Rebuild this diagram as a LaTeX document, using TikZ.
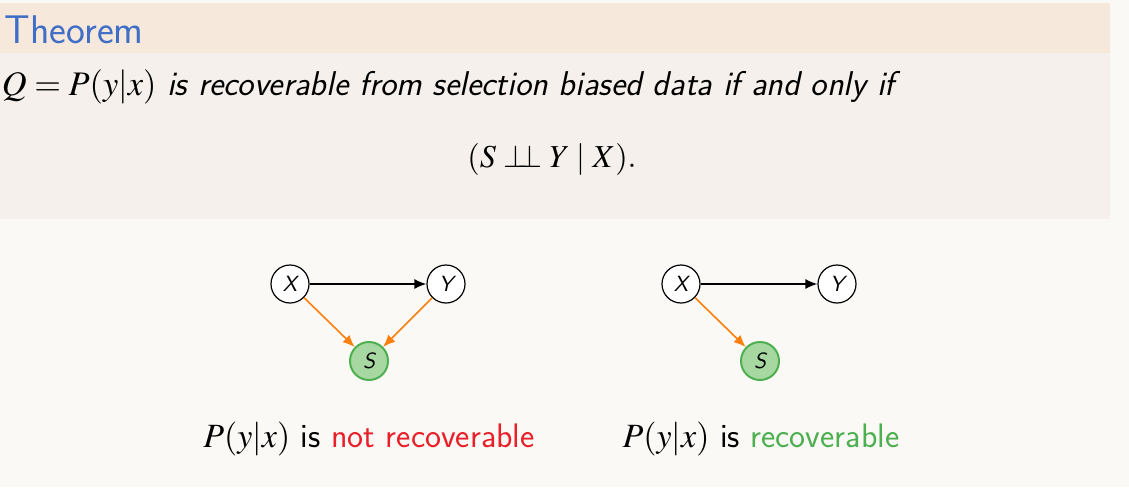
\documentclass[tikz,border=0pt]{standalone}
\usepackage{mathptmx}
\usepackage{xcolor}
\usepackage{tikz}
\usetikzlibrary{positioning}
\usetikzlibrary{arrows.meta}
\renewcommand{\familydefault}{\sfdefault}
\definecolor{pagebg}{HTML}{FBF9F5}
\definecolor{thmhead}{HTML}{F7E8DC}
\definecolor{thmbody}{HTML}{F5F0EB}
\definecolor{thmblue}{HTML}{3F6EC6}
\definecolor{biasorange}{HTML}{FF7F0E}
\definecolor{selgreen}{HTML}{4CAF50}
\definecolor{selfill}{HTML}{A8D8A2}
\definecolor{badred}{HTML}{E8202A}

\begin{document}
\begin{tikzpicture}[x=0.5pt, y=-0.5pt, -{Latex[length=6pt, width=5pt]}, thick, node distance = 78pt, on grid, var/.style ={circle, draw, semithick, fill = white, text = black, minimum size=19pt, inner sep=0pt, font=\fontsize{11}{13}\selectfont\sffamily\itshape}, sel/.style={var, draw = selgreen, fill = selfill, line width=1pt}, bias/.style={biasorange}, txt/.style={inner sep=0pt, text=black}]
		\useasboundingbox (0,0) rectangle (1129,487);
		\fill[pagebg] (0,0) rectangle (1129,487);
		\fill[thmhead] (0,3) rectangle (1110,53);
		\fill[thmbody] (0,53) rectangle (1110,219);
		\node[txt, anchor=base west, text=thmblue, font=\fontsize{20}{24}\selectfont] (title) at (4,43) {Theorem};
		\node[txt, anchor=base west, font=\fontsize{17.2}{20}\selectfont] (stmt) at (1,95) {$Q=P(y|x)$ \textit{is recoverable from selection biased data if and only if}};
		\node[txt, anchor=base, font=\fontsize{16}{20}\selectfont] (cond) at (552,167) {$(S \perp\!\!\!\perp Y \mid X).$};
		% not recoverable
		\node[var] (X1) at (290,284) {X};
		\node[var] (Y1) [right = of X1] {Y};
		\node[sel] (S1) [below right = 38.5pt and 39.5pt of X1] {S};
		\path (X1) edge (Y1)
		(X1) edge[bias] (S1)
		(Y1) edge[bias] (S1);
		% recoverable
		\node[var] (X2) at (681,284) {X};
		\node[var] (Y2) [right = of X2] {Y};
		\node[sel] (S2) [below right = 38.5pt and 39.5pt of X2] {S};
		\path (X2) edge (Y2)
		(X2) edge[bias] (S2);
		\node[txt, anchor=base, font=\fontsize{17}{20}\selectfont] (lab1) at (369,447) {$P(y|x)$ is \textcolor{badred}{not recoverable}};
		\node[txt, anchor=base, font=\fontsize{17}{20}\selectfont] (lab2) at (761,447) {$P(y|x)$ is \textcolor{selgreen}{recoverable}};
\end{tikzpicture}
\end{document}
